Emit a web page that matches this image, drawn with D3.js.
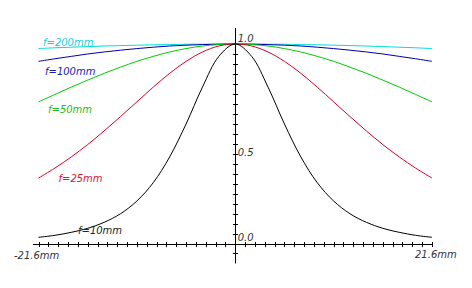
<!DOCTYPE html>
<html>
<head>
<meta charset="utf-8">
<script src="https://cdn.jsdelivr.net/npm/d3@7"></script>
<style>
  body { margin: 0; background: #fff; }
  svg { display: block; }
  text { font-family: "DejaVu Sans", Verdana, sans-serif; font-style: italic; font-size: 10px; }
</style>
</head>
<body>
<div id="chart"></div>
<script>
// image position on the sensor, mm
let positions = [-21.6, -19.8, -18, -16.2, -14.4, -12.6, -10.8, -9, -7.2, -5.4, -3.6, -1.8, 0,
                 1.8, 3.6, 5.4, 7.2, 9, 10.8, 12.6, 14.4, 16.2, 18, 19.8, 21.6];

// relative illumination
let f10 = [0.031, 0.041, 0.056, 0.076, 0.106, 0.149, 0.213, 0.305, 0.434, 0.599, 0.784, 0.938, 1,
           0.938, 0.784, 0.599, 0.434, 0.305, 0.213, 0.149, 0.106, 0.076, 0.056, 0.041, 0.031];
let f25 = [0.328, 0.378, 0.434, 0.496, 0.564, 0.636, 0.710, 0.784, 0.853, 0.913, 0.960, 0.990, 1,
           0.990, 0.960, 0.913, 0.853, 0.784, 0.710, 0.636, 0.564, 0.496, 0.434, 0.378, 0.328];
let f50 = [0.710, 0.747, 0.784, 0.819, 0.853, 0.884, 0.913, 0.938, 0.960, 0.977, 0.990, 0.997, 1,
           0.997, 0.990, 0.977, 0.960, 0.938, 0.913, 0.884, 0.853, 0.819, 0.784, 0.747, 0.710];
let f100 = [0.913, 0.926, 0.938, 0.950, 0.960, 0.969, 0.977, 0.984, 0.990, 0.994, 0.997, 0.999, 1,
            0.999, 0.997, 0.994, 0.990, 0.984, 0.977, 0.969, 0.960, 0.950, 0.938, 0.926, 0.913];
let f200 = [0.977, 0.981, 0.984, 0.987, 0.990, 0.992, 0.994, 0.996, 0.997, 0.999, 0.999, 1, 1,
            1, 0.999, 0.999, 0.997, 0.996, 0.994, 0.992, 0.990, 0.987, 0.984, 0.981, 0.977];

let seriesNames = ["f=200mm", "f=100mm", "f=50mm", "f=25mm", "f=10mm"];
let seriesValues = [f200, f100, f50, f25, f10];
let lineColors = ["#00dde0", "#0000a8", "#00cc00", "#dd0022", "#000000"];
let labelColors = ["#22ccdd", "#1a1aaa", "#22bb22", "#dd1133", "#222222"];

let xTickLabels = ["-21.6mm", "21.6mm"];
let yTickLabels = ["0.0", "0.5", "1.0"];

let width = 472, height = 288;

let x = d3.scaleLinear().domain([-21.6, 21.6]).range([38.5, 432]);
let y = d3.scaleLinear().domain([0, 1]).range([243.5, 44]);

let svg = d3.select("#chart").append("svg")
    .attr("width", width)
    .attr("height", height);

// axes
let axes = svg.append("g").attr("stroke", "#000").attr("stroke-width", 1);

axes.append("line")
    .attr("x1", x(-22.2)).attr("x2", x(21.6))
    .attr("y1", Math.round(y(0)) + 0.5).attr("y2", Math.round(y(0)) + 0.5);

axes.append("line")
    .attr("x1", Math.round(x(0)) + 0.5).attr("x2", Math.round(x(0)) + 0.5)
    .attr("y1", y(1.08)).attr("y2", y(-0.1));

let xTicks = d3.range(-20, 21).map((i) => i * 1.08);
axes.selectAll("line.xtick")
    .data(xTicks)
    .enter()
    .append("line")
    .classed("xtick", true)
    .attr("x1", (d) => Math.round(x(d)) + 0.5)
    .attr("x2", (d) => Math.round(x(d)) + 0.5)
    .attr("y1", Math.round(y(0)) - 2)
    .attr("y2", Math.round(y(0)) + 3);

let yTicks = d3.range(-1, 21).map((i) => i * 0.05);
axes.selectAll("line.ytick")
    .data(yTicks)
    .enter()
    .append("line")
    .classed("ytick", true)
    .attr("x1", Math.round(x(0)) - 2)
    .attr("x2", Math.round(x(0)) + 3)
    .attr("y1", (d) => Math.round(y(d)) + 0.5)
    .attr("y2", (d) => Math.round(y(d)) + 0.5);

// curves
let line = d3.line()
    .x((d, i) => x(positions[i]))
    .y((d) => y(d))
    .curve(d3.curveCatmullRom);

svg.append("g")
    .selectAll("path")
    .data(seriesValues)
    .enter()
    .append("path")
    .attr("fill", "none")
    .attr("stroke", (d, i) => lineColors[i])
    .attr("stroke-width", 1)
    .attr("d", line);

// series labels, placed by their left-edge value
let labelDx = [4.5, 6.5, 9.5, 20, 39.5];
let labelDy = [-3, 14, 11, 4, -3];
svg.append("g")
    .selectAll("text")
    .data(seriesNames)
    .enter()
    .append("text")
    .attr("x", (d, i) => x(-21.6) + labelDx[i])
    .attr("y", (d, i) => y(seriesValues[i][0]) + labelDy[i])
    .attr("fill", (d, i) => labelColors[i])
    .text((d) => d);

// tick labels
svg.append("text")
    .attr("x", 14).attr("y", 259)
    .attr("fill", "#333")
    .text(xTickLabels[0]);

svg.append("text")
    .attr("x", 415).attr("y", 258)
    .attr("fill", "#333")
    .text(xTickLabels[1]);

let yLabelDy = [-3, 12, -2];
svg.selectAll("text.ylab")
    .data(yTickLabels)
    .enter()
    .append("text")
    .classed("ylab", true)
    .attr("x", x(0) + 2.5)
    .attr("y", (d, i) => y(+d) + yLabelDy[i])
    .attr("fill", "#333")
    .text((d) => d);
</script>
</body>
</html>
